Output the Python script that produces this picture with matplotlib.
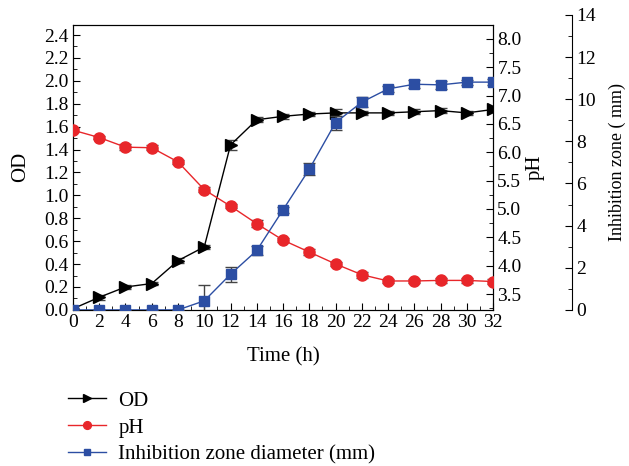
import numpy as np
import matplotlib
matplotlib.use("Agg")
import matplotlib.pyplot as plt
from matplotlib.ticker import MultipleLocator, FormatStrFormatter

plt.rcParams['font.family'] = ['Liberation Serif', 'DejaVu Serif']
plt.rcParams['font.size'] = 14

# data
time_h = [0, 2, 4, 6, 8, 10, 12, 14, 16, 18, 20, 22, 24, 26, 28, 30, 32]
od = [0.01, 0.11, 0.20, 0.23, 0.43, 0.55, 1.44, 1.66, 1.69, 1.71, 1.72, 1.72, 1.72, 1.73, 1.74, 1.72, 1.75]
od_err = [0.01, 0.02, 0.02, 0.01, 0.02, 0.02, 0.04, 0.02, 0.02, 0.02, 0.03, 0.02, 0.02, 0.02, 0.02, 0.02, 0.02]
ph = [6.39, 6.26, 6.09, 6.08, 5.83, 5.34, 5.05, 4.74, 4.45, 4.24, 4.03, 3.84, 3.73, 3.73, 3.74, 3.74, 3.72]
ph_err = [0.04, 0.03, 0.05, 0.04, 0.04, 0.04, 0.03, 0.06, 0.04, 0.06, 0.04, 0.05, 0.04, 0.04, 0.04, 0.04, 0.04]
zone = [0, 0, 0, 0, 0, 0.43, 1.69, 2.82, 4.75, 6.68, 8.89, 9.86, 10.49, 10.71, 10.68, 10.81, 10.81]
zone_err = [0, 0, 0, 0, 0, 0.75, 0.35, 0.2, 0.15, 0.3, 0.33, 0.25, 0.15, 0.2, 0.18, 0.12, 0.15]

c_od = 'black'
c_ph = '#e8262a'
c_zone = '#2c4ea3'
c_err = '#444444'

fig = plt.figure(figsize=(6.29, 4.66), dpi=100)
ax = fig.add_axes([0.116, 0.335, 0.668, 0.612])
ax2 = ax.twinx()
ax3 = fig.add_axes([0.116, 0.335, 0.668, 0.633])
ax3.patch.set_visible(False)
for s in ['left', 'top', 'bottom']:
    ax3.spines[s].set_visible(False)
ax3.spines['right'].set_position(('outward', 79 * 72 / 100))
ax3.xaxis.set_visible(False)
ax3.yaxis.set_ticks_position('right')
ax3.yaxis.set_label_position('right')

# OD
ax.errorbar(time_h, od, yerr=od_err, fmt='none', ecolor=c_err, capsize=4, elinewidth=1, zorder=2)
l1, = ax.plot(time_h, od, color=c_od, marker='>', markersize=8, lw=1, zorder=3)
# pH
ax2.errorbar(time_h, ph, yerr=ph_err, fmt='none', ecolor=c_err, capsize=4, elinewidth=1, zorder=2)
l2, = ax2.plot(time_h, ph, color=c_ph, marker='o', markersize=8, lw=1, zorder=3)
# inhibition zone
ax3.errorbar(time_h, zone, yerr=zone_err, fmt='none', ecolor=c_err, capsize=4, elinewidth=1, zorder=2)
l3, = ax3.plot(time_h, zone, color=c_zone, marker='s', markersize=7, lw=1, zorder=3)

ax.set_xlim(0, 32)
ax3.set_xlim(0, 32)
ax.set_ylim(0, 2.49)
ax2.set_ylim(3.22, 8.25)
ax3.set_ylim(0, 14)

ax.xaxis.set_major_locator(MultipleLocator(2))
ax.xaxis.set_minor_locator(MultipleLocator(1))
ax.yaxis.set_major_locator(MultipleLocator(0.2))
ax.yaxis.set_minor_locator(MultipleLocator(0.1))
ax.yaxis.set_major_formatter(FormatStrFormatter('%.1f'))
ax2.yaxis.set_major_locator(MultipleLocator(0.5))
ax2.yaxis.set_minor_locator(MultipleLocator(0.25))
ax2.yaxis.set_major_formatter(FormatStrFormatter('%.1f'))
ax3.yaxis.set_major_locator(MultipleLocator(2))
ax3.yaxis.set_minor_locator(MultipleLocator(1))

ax.tick_params(axis='both', which='major', direction='in', length=5, pad=3)
ax.tick_params(axis='both', which='minor', direction='in', length=3)
ax.tick_params(axis='x', which='both', top=False)
ax2.tick_params(which='major', direction='in', length=5, pad=3)
ax2.tick_params(which='minor', direction='in', length=3)
ax3.tick_params(which='major', direction='in', length=5, pad=3)
ax3.tick_params(which='minor', direction='in', length=3)

ax.set_xlabel('Time (h)', fontsize=15, labelpad=12)
ax.set_ylabel('OD', fontsize=15, labelpad=10)
ax2.set_ylabel('pH', fontsize=15, labelpad=3)
ax3.set_ylabel('Inhibition zone ( mm)', fontsize=13, labelpad=9)

fig.legend([l1, l2, l3], ['OD', 'pH', 'Inhibition zone diameter (mm)'],
           loc='upper left', bbox_to_anchor=(0.092, 0.183), frameon=False,
           borderpad=0, markerscale=0.7, handlelength=1.8, handletextpad=0.6,
           labelspacing=0.35, fontsize=15)

fig.savefig('out.png', dpi=100)
